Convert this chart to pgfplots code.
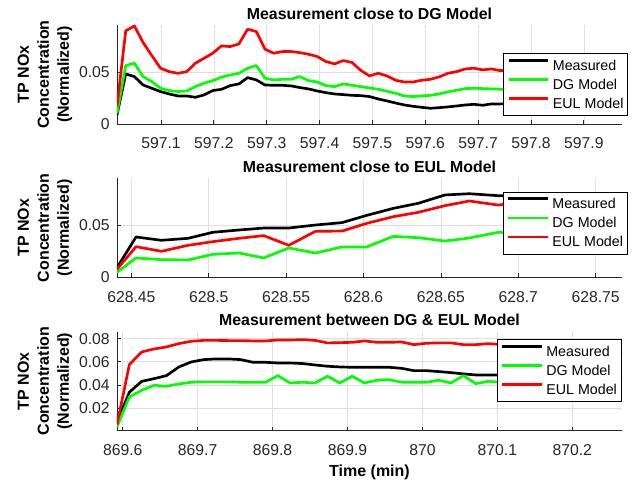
\documentclass[border=0pt]{standalone}
\usepackage{fontspec}
\setmainfont{Liberation Sans}
\usepackage{pgfplots}
\usepackage{pgfplotstable}
\pgfplotsset{compat=1.18}
\definecolor{axisgray}{RGB}{38,38,38}
\definecolor{gridgray}{RGB}{223,223,223}
\definecolor{mgreen}{RGB}{0,255,0}
\definecolor{mred}{RGB}{255,0,0}

% x = time minus 597 min
\pgfplotstableread{
t      meas   dg     eul
0.0168 0.0087 0.0103 0.0168
0.0333 0.0484 0.0565 0.0900
0.0497 0.0458 0.0587 0.0948
0.0662 0.0377 0.0458 0.0787
0.0827 0.0345 0.0410 0.0661
0.0992 0.0313 0.0345 0.0539
0.1156 0.0290 0.0323 0.0506
0.1321 0.0271 0.0313 0.0490
0.1486 0.0271 0.0319 0.0506
0.1650 0.0258 0.0361 0.0587
0.1815 0.0281 0.0394 0.0636
0.1980 0.0323 0.0419 0.0684
0.2144 0.0335 0.0452 0.0755
0.2309 0.0371 0.0474 0.0748
0.2474 0.0387 0.0490 0.0774
0.2639 0.0448 0.0539 0.0916
0.2803 0.0426 0.0565 0.0894
0.2968 0.0377 0.0442 0.0723
0.3133 0.0374 0.0426 0.0684
0.3297 0.0374 0.0432 0.0700
0.3462 0.0368 0.0432 0.0700
0.3627 0.0352 0.0458 0.0690
0.3791 0.0339 0.0419 0.0674
0.3956 0.0319 0.0406 0.0652
0.4121 0.0303 0.0371 0.0603
0.4286 0.0290 0.0361 0.0581
0.4450 0.0284 0.0387 0.0613
0.4615 0.0277 0.0374 0.0594
0.4780 0.0274 0.0361 0.0518
0.4944 0.0265 0.0348 0.0465
0.5109 0.0242 0.0336 0.0490
0.5274 0.0223 0.0316 0.0465
0.5438 0.0203 0.0297 0.0423
0.5603 0.0184 0.0271 0.0406
0.5768 0.0171 0.0265 0.0406
0.5933 0.0161 0.0271 0.0423
0.6097 0.0152 0.0277 0.0432
0.6262 0.0158 0.0290 0.0455
0.6427 0.0165 0.0310 0.0490
0.6591 0.0174 0.0326 0.0506
0.6756 0.0184 0.0342 0.0532
0.6921 0.0190 0.0345 0.0539
0.7085 0.0181 0.0342 0.0523
0.7250 0.0194 0.0339 0.0532
0.7415 0.0194 0.0336 0.0516
0.7580 0.0195 0.0336 0.0520
0.7744 0.0198 0.0335 0.0525
0.7909 0.0200 0.0338 0.0522
0.8074 0.0202 0.0336 0.0518
0.8238 0.0200 0.0334 0.0520
0.8403 0.0205 0.0338 0.0525
0.8568 0.0203 0.0340 0.0530
0.8732 0.0205 0.0338 0.0528
0.8897 0.0208 0.0336 0.0525
0.9062 0.0206 0.0335 0.0520
0.9227 0.0205 0.0337 0.0522
0.9391 0.0207 0.0336 0.0525
0.9556 0.0208 0.0335 0.0520
0.9721 0.0206 0.0334 0.0518
}\dataA

% x = time minus 628 min
\pgfplotstableread{
t      meas   dg     eul
0.4407 0.0093 0.0048 0.0077
0.4530 0.0388 0.0186 0.0295
0.4694 0.0356 0.0170 0.0250
0.4866 0.0375 0.0167 0.0308
0.5026 0.0433 0.0221 0.0343
0.5194 0.0455 0.0234 0.0375
0.5355 0.0474 0.0186 0.0401
0.5517 0.0474 0.0282 0.0308
0.5689 0.0503 0.0234 0.0442
0.5861 0.0526 0.0292 0.0445
0.6021 0.0596 0.0292 0.0519
0.6192 0.0663 0.0394 0.0583
0.6354 0.0712 0.0381 0.0625
0.6526 0.0792 0.0349 0.0689
0.6683 0.0804 0.0378 0.0734
0.6871 0.0785 0.0433 0.0695
0.7035 0.0780 0.0425 0.0725
0.7200 0.0772 0.0410 0.0712
0.7365 0.0765 0.0418 0.0705
0.7530 0.0770 0.0430 0.0715
0.7670 0.0768 0.0425 0.0710
}\dataB

% x = time minus 869 min
\pgfplotstableread{
t      meas   dg     eul
0.5924 0.0079 0.0039 0.0059
0.6089 0.0338 0.0298 0.0576
0.6254 0.0432 0.0355 0.0685
0.6419 0.0455 0.0398 0.0711
0.6584 0.0481 0.0389 0.0728
0.6750 0.0556 0.0410 0.0757
0.6915 0.0599 0.0424 0.0777
0.7080 0.0619 0.0427 0.0785
0.7245 0.0625 0.0427 0.0785
0.7410 0.0625 0.0427 0.0783
0.7575 0.0619 0.0424 0.0783
0.7740 0.0596 0.0424 0.0780
0.7905 0.0596 0.0424 0.0780
0.8070 0.0590 0.0481 0.0788
0.8235 0.0590 0.0418 0.0788
0.8401 0.0585 0.0424 0.0791
0.8566 0.0573 0.0418 0.0785
0.8731 0.0562 0.0476 0.0763
0.8896 0.0556 0.0418 0.0765
0.9061 0.0553 0.0476 0.0768
0.9226 0.0553 0.0418 0.0780
0.9391 0.0553 0.0441 0.0768
0.9556 0.0553 0.0447 0.0768
0.9721 0.0544 0.0424 0.0771
0.9886 0.0524 0.0424 0.0748
1.0052 0.0524 0.0424 0.0760
1.0217 0.0516 0.0441 0.0763
1.0382 0.0507 0.0418 0.0763
1.0547 0.0496 0.0481 0.0748
1.0712 0.0487 0.0412 0.0748
1.0877 0.0487 0.0432 0.0757
1.1042 0.0487 0.0425 0.0750
1.1207 0.0485 0.0440 0.0752
1.1372 0.0480 0.0420 0.0745
1.1537 0.0478 0.0470 0.0740
1.1703 0.0475 0.0420 0.0735
1.1868 0.0470 0.0425 0.0700
1.2033 0.0468 0.0440 0.0690
1.2198 0.0465 0.0420 0.0680
1.2363 0.0462 0.0430 0.0675
1.2528 0.0460 0.0445 0.0675
1.2663 0.0459 0.0409 0.0674
}\dataC

\pgfplotsset{
  panel/.style={
    scale only axis, width=378.75pt, height=74.25pt, anchor=south west,
    axis lines*=left, axis line style={-, color=axisgray, line width=0.6pt},
    tick align=inside, major tick length=3pt,
    tick style={color=axisgray, line width=0.6pt},
    grid=major, grid style={color=gridgray, line width=0.5pt},
    tick label style={font=\fontsize{11.8}{13}\selectfont, text=axisgray},
    xticklabel style={anchor=base, yshift=-18.7pt},
    yticklabel style={anchor=east, inner sep=0pt, xshift=-5.25pt,
      /pgf/number format/fixed, /pgf/number format/precision=2},
    /pgf/number format/assume math mode=true,
    scaled ticks=false,
    title style={font=\bfseries\fontsize{11.9}{14}\selectfont,
      at={(0.5,1)}, anchor=base, yshift=-1.7pt},
    ylabel={TP NOx\\Concentration\\(Normalized)},
    ylabel style={font=\bfseries\fontsize{12}{15}\selectfont, align=center,
      at={(axis description cs:-0.1426,0.5)}, anchor=center},
    legend cell align=left,
    legend image code/.code={\draw[##1, line width=2pt] (0pt,3.8pt) -- (29.5pt,3.8pt);},
    legend style={anchor=north west, draw=black, fill=white,
      font=\fontsize{10.7}{12}\selectfont, inner xsep=3pt, inner ysep=2.4pt,
      row sep=1.4pt, column sep=2.5pt,
      nodes={inner sep=0pt, text height=10pt, text depth=3pt}},
  },
  meas/.style={black, line width=2pt, line join=round},
  dgm/.style={mgreen, line width=2pt, line join=round},
  eulm/.style={mred, line width=2pt, line join=round},
}

\begin{document}
\begin{tikzpicture}
% --- panel 1 ---
\begin{axis}[panel, at={(87.75pt,270pt)},
    title={Measurement close to DG Model},
    xmin=0.0168, xmax=0.9721, ymin=0, ymax=0.0957,
    xtick={0.1,0.2,0.3,0.4,0.5,0.6,0.7,0.8,0.9},
    xticklabels={597.1,597.2,597.3,597.4,597.5,597.6,597.7,597.8,597.9},
    ytick={0,0.05},
    legend style={at={(0.765,0.714)}}]
\addplot[meas] table[x=t,y=meas] {\dataA};
\addplot[dgm] table[x=t,y=dg] {\dataA};
\addplot[eulm] table[x=t,y=eul] {\dataA};
\legend{Measured,DG Model,EUL Model}
\end{axis}
% --- panel 2 ---
\begin{axis}[panel, at={(87.75pt,155pt)},
    title={Measurement close to EUL Model},
    xmin=0.4407, xmax=0.767, ymin=0, ymax=0.0952,
    xtick={0.45,0.5,0.55,0.6,0.65,0.7,0.75},
    xticklabels={628.45,628.5,628.55,628.6,628.65,628.7,628.75},
    ytick={0,0.05},
    legend style={at={(0.764,0.865)}}]
\addplot[meas] table[x=t,y=meas] {\dataB};
\addplot[dgm] table[x=t,y=dg] {\dataB};
\addplot[eulm] table[x=t,y=eul] {\dataB};
\legend{Measured,DG Model,EUL Model}
\end{axis}
% --- panel 3 ---
\begin{axis}[panel, at={(87.75pt,40pt)},
    title={Measurement between DG \& EUL Model},
    xlabel={Time (min)},
    xlabel style={font=\bfseries\fontsize{12}{14}\selectfont,
      at={(axis description cs:0.5,-0.458)}, anchor=base},
    xmin=0.5924, xmax=1.2663, ymin=0.0007, ymax=0.086,
    xtick={0.6,0.7,0.8,0.9,1.0,1.1,1.2},
    xticklabels={869.6,869.7,869.8,869.9,870,870.1,870.2},
    ytick={0.02,0.04,0.06,0.08},
    legend style={at={(0.752,0.923)}}]
\addplot[meas] table[x=t,y=meas] {\dataC};
\addplot[dgm] table[x=t,y=dg] {\dataC};
\addplot[eulm] table[x=t,y=eul] {\dataC};
\legend{Measured,DG Model,EUL Model}
\end{axis}
\pgfresetboundingbox
\path (0pt,0pt) rectangle (474.75pt,363pt);
\end{tikzpicture}
\end{document}
